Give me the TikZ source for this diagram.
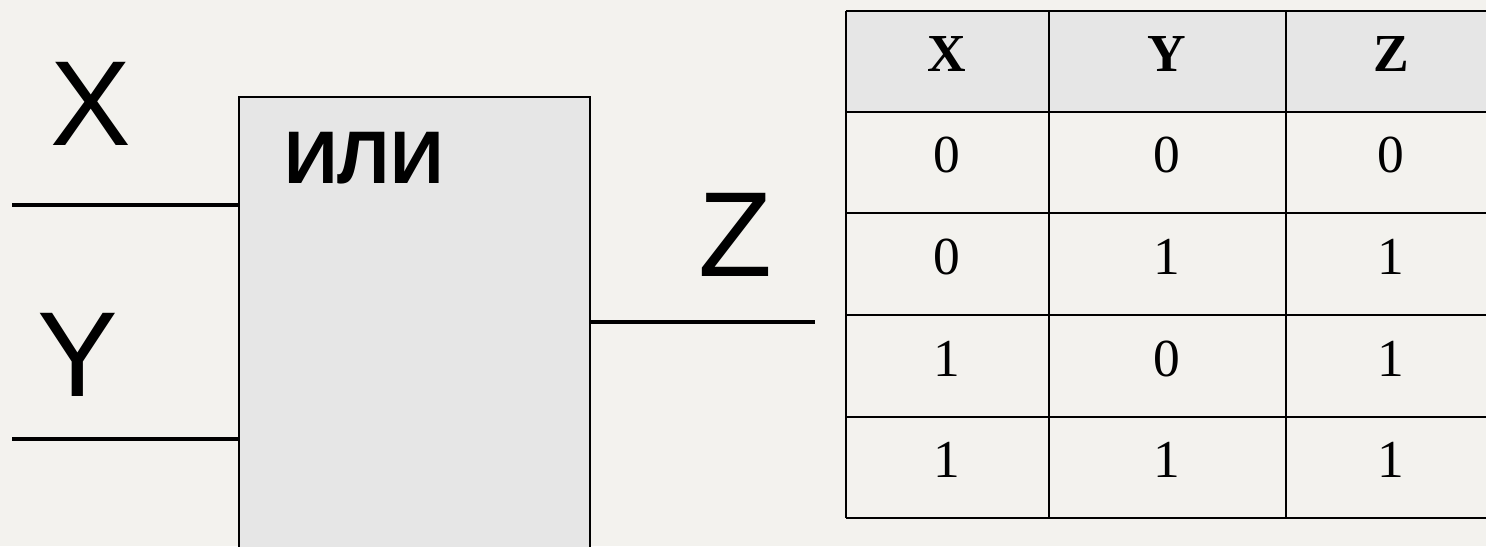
\documentclass[tikz,border=0pt]{standalone}
\usepackage{fontspec}
\setmainfont{Liberation Serif}
\newfontfamily\gatefont{Liberation Sans}
\usetikzlibrary{positioning}

\definecolor{paper}{HTML}{F3F2EE}
\definecolor{boxgray}{HTML}{E6E6E6}

\tikzset{
  wire/.style={line width=2.8pt},
  pinlabel/.style={anchor=base, inner sep=0pt, font=\gatefont\fontsize{86}{90}\selectfont},
  gatebox/.style={draw, line width=1.4pt, fill=boxgray, anchor=north west,
    minimum width=8.775cm, minimum height=11.6cm, inner sep=0pt},
  gridline/.style={line width=1.5pt},
  cell/.style={anchor=base, inner sep=0pt, font=\fontsize{38}{40}\selectfont}
}

\begin{document}
\begin{tikzpicture}[x=0.025cm, y=-0.025cm]
  % paper
  \fill[paper] (0,0) rectangle (1486,546);
  \useasboundingbox (0,0) rectangle (1486,546);
  \clip (0,0) rectangle (1486,546);

  % gate
  \node[gatebox] (gate) at (238,96) {};
  \node[anchor=base west, inner sep=0pt, font=\gatefont\bfseries\fontsize{53}{56}\selectfont] (gatename) at (284,183) {ИЛИ};

  % inputs and output
  \coordinate (xin) at (12,205);
  \coordinate (yin) at (12,439);
  \coordinate (zout) at (815,322);
  \draw[wire] (xin) -- (xin -| gate.west);
  \draw[wire] (yin) -- (yin -| gate.west);
  \draw[wire] (gate.east |- zout) -- (zout);
  \node[pinlabel] (xlab) at (91,145) {X};
  \node[pinlabel] (ylab) at (78,396) {Y};
  \node[pinlabel] (zlab) at (735,276) {Z};

  % truth table
  \fill[boxgray] (846,11) rectangle (1496,112);
  \foreach \y in {11,112,213,315,417,518}
    \draw[gridline] (846,\y) -- (1496,\y);
  \foreach \x in {846,1049,1286,1496}
    \draw[gridline] (\x,11) -- (\x,518);
  \node[cell, font=\bfseries\fontsize{38}{40}\selectfont] (hx) at (947,71) {X};
  \node[cell, font=\bfseries\fontsize{38}{40}\selectfont] (hy) at (1167,71) {Y};
  \node[cell, font=\bfseries\fontsize{38}{40}\selectfont] (hz) at (1391,71) {Z};
  \foreach \r/\yy/\a/\b/\c in {1/172/0/0/0, 2/274/0/1/1, 3/376/1/0/1, 4/477/1/1/1} {
    \node[cell] (x\r) at (947,\yy) {\a};
    \node[cell] (y\r) at (1167,\yy) {\b};
    \node[cell] (z\r) at (1391,\yy) {\c};
  }
\end{tikzpicture}
\end{document}
